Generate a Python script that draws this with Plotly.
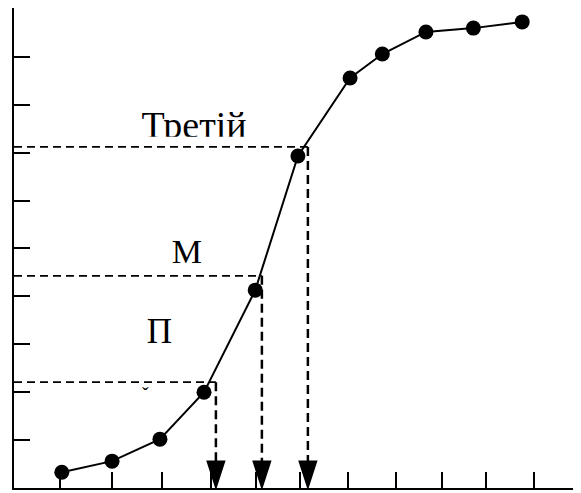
import plotly.graph_objects as go

# Data (schematic cumulative curve)
x_pts = [1.05, 2.11, 3.12, 4.05, 5.13, 6.03, 7.13, 7.81, 8.73, 9.73, 10.76]
y_pts = [0.33, 0.56, 1.02, 2.00, 4.13, 6.93, 8.56, 9.06, 9.52, 9.60, 9.73]
x_ticks = [1.01, 2.11, 3.16, 4.20, 5.15, 6.08, 7.09, 8.10, 9.07, 10.00, 11.01]
y_ticks = [1, 2, 3, 4, 5, 6, 7, 8, 9, 10]
levels = [2.21, 4.43, 7.12]
drops = [4.30, 5.27, 6.24]
labels = ["Третій", "М", "П", "ˇ"]
label_x = [3.84, 3.69, 3.11, 2.81]
label_y = [7.50, 4.88, 3.22, 1.90]
label_size = [38, 34, 35, 20]

X0, X1 = 0.042, 12.0
Y0, Y1 = 0.0, 10.02

fig = go.Figure()

fig.add_trace(go.Scatter(
    x=x_pts, y=y_pts, mode="lines+markers",
    line=dict(color="black", width=2),
    marker=dict(color="black", size=15),
    showlegend=False, hoverinfo="skip", cliponaxis=False,
))

for t, x, y, s in zip(labels, label_x, label_y, label_size):
    fig.add_trace(go.Scatter(
        x=[x], y=[y], mode="text", text=[t],
        textfont=dict(family="Liberation Serif", size=s, color="black"),
        textposition="middle center", showlegend=False, hoverinfo="skip",
        cliponaxis=False,
    ))

# arrowheads at the foot of each drop line
fig.add_trace(go.Scatter(
    x=drops, y=[0] * len(drops), mode="markers",
    marker=dict(symbol="arrow", angle=180, size=28, color="black",
                line=dict(color="black", width=1.5)),
    showlegend=False, hoverinfo="skip", cliponaxis=False,
))

shapes = []
# white band that hides the bottom of the "Третій" label
shapes.append(dict(type="rect", xref="x", yref="y", x0=2.6, x1=5.3,
                   y0=levels[2] - 0.03, y1=levels[2] + 0.21,
                   fillcolor="white", line=dict(width=0), layer="above"))
for lv, dx in zip(levels, drops):
    shapes.append(dict(type="line", xref="x", yref="y", x0=X0, x1=dx, y0=lv, y1=lv,
                       line=dict(color="black", width=1.8, dash="8px,5px"), layer="above"))
    shapes.append(dict(type="line", xref="x", yref="y", x0=dx, x1=dx, y0=lv, y1=0.4,
                       line=dict(color="black", width=2.5, dash="9px,5px"), layer="above"))

fig.update_layout(
    width=573, height=485,
    margin=dict(l=6, r=0, t=0, b=5),
    paper_bgcolor="white", plot_bgcolor="white",
    shapes=shapes,
    xaxis=dict(range=[X0, X1], showgrid=False, zeroline=False, showline=True,
               linecolor="black", linewidth=2, ticks="inside", ticklen=16,
               tickwidth=2, tickcolor="black", tickvals=x_ticks,
               showticklabels=False, fixedrange=True),
    yaxis=dict(range=[Y0, Y1], showgrid=False, zeroline=False, showline=True,
               linecolor="black", linewidth=2, ticks="inside", ticklen=16,
               tickwidth=2, tickcolor="black", tickvals=y_ticks,
               showticklabels=False, fixedrange=True),
)

fig.write_html("out.html")
